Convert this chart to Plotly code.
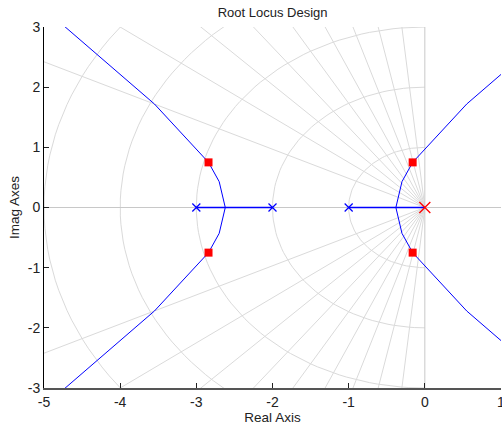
import numpy as np
import plotly.graph_objects as go

# Open-loop poles: plant (blue) and compensator integrator (red)
plant_poles = [-3.0, -2.0, -1.0]
comp_poles = [0.0]

# Closed-loop poles at the current gain
cl_real = [-2.84, -2.84, -0.16, -0.16]
cl_imag = [0.75, -0.75, 0.75, -0.75]

# Root locus branches (upper half; lower half is the mirror image)
left_re = [-2.62, -2.70, -2.84, -3.55, -5.27]
right_re = [-0.38, -0.30, -0.16, 0.55, 2.27]
branch_im = [0.0, 0.43, 0.75, 1.72, 3.6]

# Real-axis segments of the locus
real_segments = [(-3.0, -2.0), (-1.0, 0.0)]

# s-plane grid: damping ratios and natural frequencies
zeta_vals = [0.1, 0.2, 0.3, 0.4, 0.5, 0.6, 0.7, 0.8, 0.9]
wn_vals = [1, 2, 3, 4, 5, 6]

x_ticks = [-5, -4, -3, -2, -1, 0, 1]
y_ticks = [-3, -2, -1, 0, 1, 2, 3]

GRID = "#dadada"
AXGRID = "#c8c8c8"
BLUE = "#0000ff"
RED = "#ff0000"

fig = go.Figure()

# constant-wn semicircles in the left half plane
th = np.linspace(np.pi / 2, 3 * np.pi / 2, 91)
for wn in wn_vals:
    fig.add_trace(go.Scatter(x=wn * np.cos(th), y=wn * np.sin(th), mode="lines",
                             line=dict(color=GRID, width=1), hoverinfo="skip"))

# constant-zeta rays from the origin
R = 20
for z in zeta_vals:
    a = np.arccos(z)
    fig.add_trace(go.Scatter(x=[-R * np.cos(a), 0, -R * np.cos(a)],
                             y=[R * np.sin(a), 0, -R * np.sin(a)], mode="lines",
                             line=dict(color=GRID, width=1), hoverinfo="skip"))

# real and imaginary axes
fig.add_trace(go.Scatter(x=[-5, 1], y=[0, 0], mode="lines",
                         line=dict(color=AXGRID, width=1), hoverinfo="skip"))
fig.add_trace(go.Scatter(x=[0, 0], y=[-3, 3], mode="lines",
                         line=dict(color=AXGRID, width=1), hoverinfo="skip"))

# locus branches
for xs in (left_re, right_re):
    for sgn in (1, -1):
        fig.add_trace(go.Scatter(x=xs, y=[sgn * v for v in branch_im], mode="lines",
                                 line=dict(color=BLUE, width=1)))
for a, b in real_segments:
    fig.add_trace(go.Scatter(x=[a, b], y=[0, 0], mode="lines",
                             line=dict(color=BLUE, width=1.4)))

# open-loop poles
fig.add_trace(go.Scatter(x=plant_poles, y=[0] * len(plant_poles), mode="markers",
                         marker=dict(symbol="x-thin", size=8,
                                     line=dict(color=BLUE, width=1.2))))
fig.add_trace(go.Scatter(x=comp_poles, y=[0] * len(comp_poles), mode="markers",
                         marker=dict(symbol="x-thin", size=11,
                                     line=dict(color=RED, width=1.3))))

# closed-loop poles
fig.add_trace(go.Scatter(x=cl_real, y=cl_imag, mode="markers",
                         marker=dict(symbol="square", size=8, color=RED,
                                     line=dict(width=0))))

font = "Liberation Sans, Arial, sans-serif"
fig.update_layout(
    width=502, height=428,
    margin=dict(l=44, r=1, t=27, b=40),
    paper_bgcolor="white", plot_bgcolor="white",
    showlegend=False,
    font=dict(family=font, size=14, color="#222222"),
    title=dict(text="Root Locus Design", x=0.543, xanchor="center",
               y=1 - 12.5 / 428, yanchor="middle",
               font=dict(family=font, size=13, color="#222222")),
    xaxis=dict(range=[-5, 1], tickvals=x_ticks, ticktext=[str(v) for v in x_ticks],
               showgrid=False, zeroline=False, showline=True, linecolor="#555555",
               linewidth=1.5, ticks="inside", ticklen=5, tickcolor="#222222",
               ticklabeloverflow="allow", tickfont=dict(size=14), automargin=False,
               title=dict(text="Real Axis", standoff=4, font=dict(size=13.5)),
               fixedrange=True),
    yaxis=dict(range=[-3, 3], tickvals=y_ticks, ticktext=[str(v) for v in y_ticks],
               showgrid=False, zeroline=False, showline=True, linecolor="#000000",
               linewidth=1, ticks="inside", ticklen=5, tickcolor="#222222",
               tickfont=dict(size=14), automargin=False,
               title=dict(text="Imag Axes", standoff=5, font=dict(size=13.5)),
               fixedrange=True),
)

fig.write_html("out.html")
